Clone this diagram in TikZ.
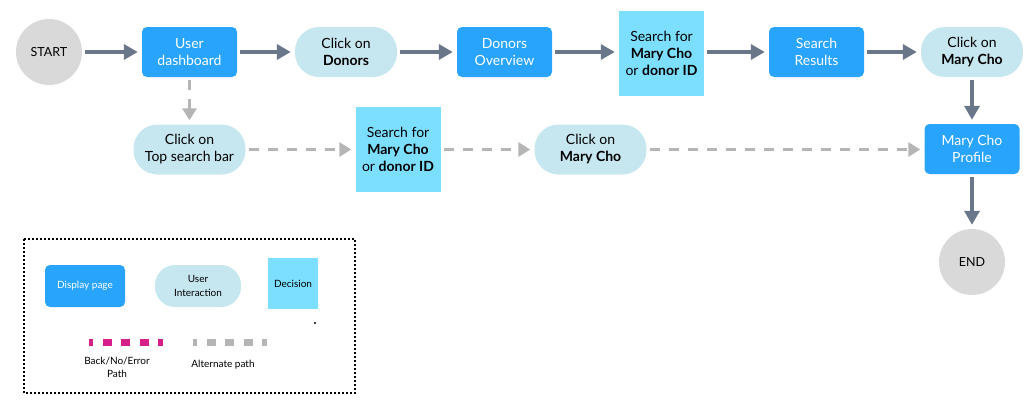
\documentclass[tikz,border=0pt]{standalone}
\usepackage{fontspec}
\setmainfont{Lato}
\usetikzlibrary{arrows.meta,positioning,calc}
\definecolor{pageblue}{HTML}{29A4FD}
\definecolor{actblue}{HTML}{C6E6F0}
\definecolor{decblue}{HTML}{7DDFFF}
\definecolor{termgray}{HTML}{D9D9D9}
\definecolor{flowgray}{HTML}{6A7689}
\definecolor{altgray}{HTML}{B5B5B5}
\definecolor{backpink}{HTML}{D61F8A}
\tikzset{
    page/.style = {rectangle, fill=pageblue, text=white, rounded corners=5pt,
        minimum width=95pt, minimum height=50pt, align=center,
        font=\fontsize{14}{17}\selectfont},
    act/.style = {rectangle, fill=actblue, rounded corners=24pt,
        minimum width=102pt, minimum height=50pt, align=center,
        font=\fontsize{14}{17}\selectfont},
    decide/.style = {rectangle, fill=decblue, minimum width=85pt,
        minimum height=85pt, align=center, font=\fontsize{14}{17}\selectfont},
    term/.style = {circle, fill=termgray, minimum size=66pt,
        font=\fontsize{12.5}{14}\selectfont},
    flow/.style = {draw=flowgray, line width=3.5pt,
        -{Triangle[length=14pt,width=15pt]}, shorten <=3pt, shorten >=4pt},
    alt/.style = {draw=altgray, line width=3pt, dash pattern=on 10pt off 9pt,
        -{Triangle[length=12pt,width=14pt]}, shorten <=3pt, shorten >=4pt},
    keytext/.style = {align=center, font=\fontsize{10}{13}\selectfont},
    legendbox/.style = {draw, line width=1.4pt, dash pattern=on 2pt off 2pt}
}

\begin{document}
\begin{tikzpicture}[node distance=150pt]
    \useasboundingbox (0,0) rectangle (1033pt,-410pt);
    % main path
    \node [term, name=start] at (49pt,-52pt) {START};
    \node [page, right of=start, node distance=140.5pt, name=dash] {User\\dashboard};
    \node [act, right of=dash, node distance=156.5pt, name=clickdonors] {Click on\\\textbf{Donors}};
    \node [page, right of=clickdonors, node distance=158.5pt, name=overview] {Donors\\Overview};
    \node [decide, right of=overview, node distance=157pt, yshift=-1pt, name=search1] {Search for\\\textbf{Mary Cho}\\or \textbf{donor ID}};
    \node [page, right of=overview, node distance=312pt, name=results] {Search\\Results};
    \node [act, right of=results, node distance=155.5pt, name=clickmary1] {Click on\\\textbf{Mary Cho}};
    \node [page, below of=clickmary1, node distance=97pt, name=profile] {Mary Cho\\Profile};
    \node [term, below of=profile, node distance=113pt, name=finish] {END};
    \draw [flow] (start) -- (dash);
    \draw [flow] (dash) -- (clickdonors);
    \draw [flow] (clickdonors) -- (overview);
    \draw [flow] (overview) -- (search1.west |- overview);
    \draw [flow] (search1.east |- results) -- (results);
    \draw [flow] (results) -- (clickmary1);
    \draw [flow] (clickmary1) -- (profile);
    \draw [flow] (profile) -- (finish);
    % alternate path
    \node [act, below of=dash, node distance=97.5pt, minimum width=112pt, name=topbar] {Click on\\Top search bar};
    \node [decide, right of=topbar, node distance=208.5pt, name=search2] {Search for\\\textbf{Mary Cho}\\or \textbf{donor ID}};
    \node [act, right of=search2, node distance=192.5pt, minimum width=112pt, name=clickmary2] {Click on\\\textbf{Mary Cho}};
    \draw [alt] (dash) -- (topbar);
    \draw [alt] (topbar) -- (search2);
    \draw [alt] (search2) -- (clickmary2);
    \draw [alt] (clickmary2) -- (clickmary2 -| profile.west);
    % legend
    \draw [legendbox] (24pt,-239pt) rectangle (355pt,-393pt);
    \node [page, minimum width=80pt, minimum height=42pt, font=\fontsize{10}{13}\selectfont, name=keypage] at (85pt,-286pt) {Display page};
    \node [act, minimum width=86pt, minimum height=42pt, rounded corners=20pt, font=\fontsize{10}{14}\selectfont, name=keyact] at (198pt,-286pt) {User\\Interaction};
    \node [decide, minimum width=50pt, minimum height=51pt, font=\fontsize{10}{13}\selectfont, name=keydec] at (293pt,-283.5pt) {Decision};
    \fill (315pt,-323pt) circle (1.1pt);
    \coordinate (bk1) at (89pt,-342pt);
    \coordinate (bk2) at (163pt,-342pt);
    \coordinate (al1) at (193pt,-342pt);
    \coordinate (al2) at (267pt,-342pt);
    \draw [backpink, line width=7pt, dash pattern=on 9.3pt off 9.2pt, dash phase=5pt] (bk1) -- (bk2);
    \draw [altgray, line width=7pt, dash pattern=on 9.3pt off 9.2pt, dash phase=5pt] (al1) -- (al2);
    \node [keytext, below of=bk1, node distance=25.5pt, xshift=28pt, name=keyback] {Back/No/Error\\Path};
    \node [keytext, below of=al1, node distance=23pt, xshift=30pt, name=keyalt] {Alternate path};
\end{tikzpicture}
\end{document}
